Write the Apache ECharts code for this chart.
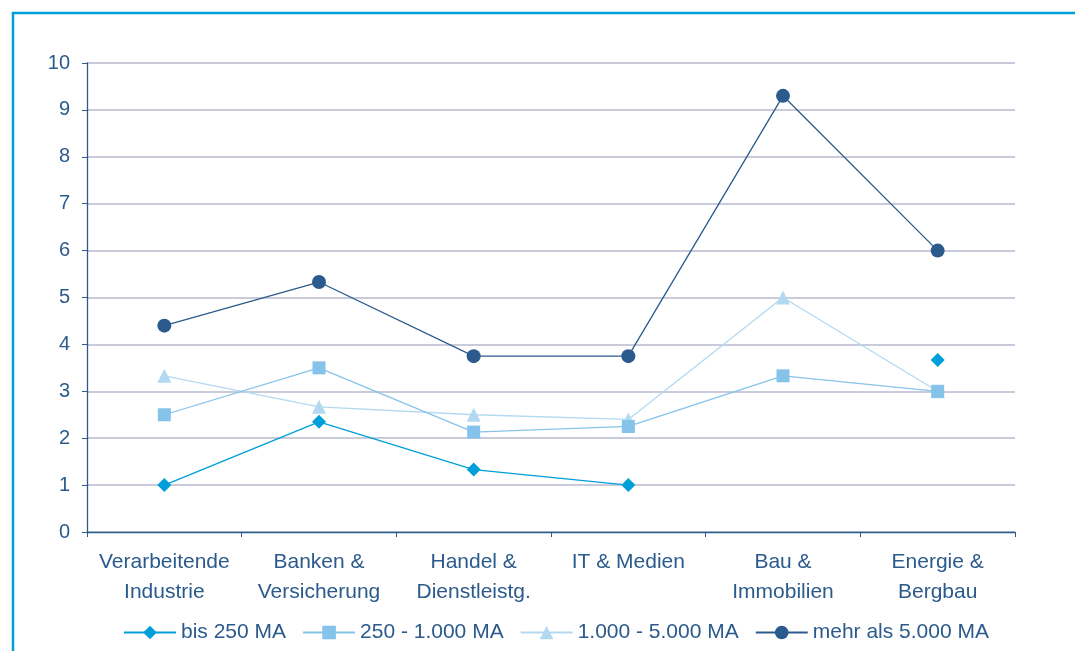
<!DOCTYPE html>
<html>
<head>
<meta charset="utf-8">
<style>
  html, body { margin: 0; padding: 0; background: #ffffff; }
  #chart { width: 1075px; height: 651px; }
</style>
<script src="https://cdn.jsdelivr.net/npm/echarts@6/dist/echarts.min.js"></script>
</head>
<body>
<div id="chart"></div>
<script>
// Branchen (categories) and values per company size class
const categories = [
  'Verarbeitende\nIndustrie',
  'Banken &\nVersicherung',
  'Handel &\nDienstleistg.',
  'IT & Medien',
  'Bau &\nImmobilien',
  'Energie &\nBergbau'
];
const bis250 = [1.0, 2.35, 1.33, 1.0, null, 3.67];
const von250bis1000 = [2.5, 3.5, 2.13, 2.25, 3.33, 3.0];
const von1000bis5000 = [3.33, 2.67, 2.5, 2.4, 5.0, 3.0];
const mehrAls5000 = [4.4, 5.33, 3.75, 3.75, 9.3, 6.0];
const seriesNames = ['bis 250 MA', '250 - 1.000 MA', '1.000 - 5.000 MA', 'mehr als 5.000 MA'];

const textColor = '#2B5A8C';
const fontFamily = '"Liberation Sans", Arial, sans-serif';

const chart = echarts.init(document.getElementById('chart'));

function lineSeries(name, data, color, symbol, size, z) {
  return {
    name: name,
    type: 'line',
    data: data,
    symbol: symbol,
    symbolSize: size,
    showSymbol: true,
    connectNulls: false,
    z: z,
    lineStyle: { color: color, width: 1.3 },
    itemStyle: { color: color },
    emphasis: { disabled: true },
    animation: false
  };
}

chart.setOption({
  animation: false,
  textStyle: { fontFamily: fontFamily },
  grid: { left: 87, right: 60, top: 63, bottom: 119, containLabel: false },
  legend: {
    top: 617,
    left: 118,
    itemWidth: 52,
    itemHeight: 17,
    itemGap: 16,
    textStyle: { color: textColor, fontSize: 21, fontFamily: fontFamily },
    data: seriesNames
  },
  xAxis: {
    type: 'category',
    data: categories,
    boundaryGap: true,
    axisLine: { lineStyle: { color: textColor, width: 1.3 } },
    axisTick: { show: true, length: 5, alignWithLabel: false, lineStyle: { color: textColor } },
    axisLabel: {
      color: textColor,
      fontSize: 21,
      lineHeight: 30,
      margin: 15,
      interval: 0,
      fontFamily: fontFamily
    },
    splitLine: { show: false }
  },
  yAxis: {
    type: 'value',
    min: 0,
    max: 10,
    interval: 1,
    axisLine: { show: true, lineStyle: { color: textColor, width: 1.3 } },
    axisTick: { show: true, length: 5, lineStyle: { color: textColor } },
    axisLabel: { color: textColor, fontSize: 20, margin: 17, fontFamily: fontFamily },
    splitLine: { show: true, lineStyle: { color: '#C9CBDA', width: 2 } }
  },
  graphic: [
    {
      type: 'polyline',
      shape: { points: [[13, 651], [13, 13], [1075, 13]] },
      style: { stroke: '#009FDA', lineWidth: 2.5, fill: null },
      silent: true
    }
  ],
  series: [
    lineSeries(seriesNames[0], bis250, '#009FDA', 'diamond', 14, 4),
    lineSeries(seriesNames[1], von250bis1000, '#86C3EA', 'rect', 13, 3),
    lineSeries(seriesNames[2], von1000bis5000, '#B3D9F1', 'triangle', 14, 2),
    lineSeries(seriesNames[3], mehrAls5000, '#2B5A8C', 'circle', 14, 5)
  ]
});
</script>
</body>
</html>
